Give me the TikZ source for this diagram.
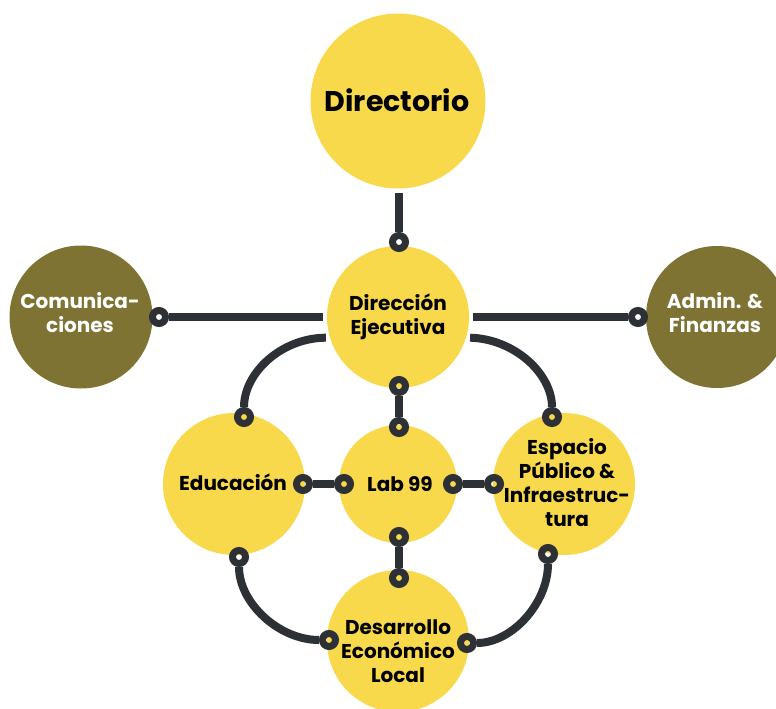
\documentclass[tikz,border=0pt]{standalone}
\usepackage{fontspec}
\setmainfont{Poppins}
\definecolor{ylw}{HTML}{F8D94C}
\definecolor{olv}{HTML}{7E7333}
\definecolor{drk}{HTML}{2D3135}
\begin{document}
\begin{tikzpicture}[x=1pt,y=-1pt,
  bigc/.style={circle,fill=#1,inner sep=0pt,outer sep=4pt},
  ring/.style={circle,draw=drk,line width=7pt,minimum size=13pt,inner sep=0pt},
  conn/.style={draw=drk,line width=8pt},
  lbl/.style={align=center,font=\fontsize{20}{24}\selectfont\bfseries,text=black,inner sep=0pt},
  lblw/.style={lbl,text=white}]
\useasboundingbox (0,0) rectangle (776,709);
% circles
\node[bigc=ylw,minimum size=175pt] (dir) at (398,101) {};
\node[bigc=ylw,minimum size=142pt] (de) at (398,317) {};
\node[bigc=olv,minimum size=143pt] (com) at (81,317) {};
\node[bigc=olv,minimum size=142pt] (adm) at (717,317) {};
\node[bigc=ylw,minimum size=142pt] (edu) at (234,484) {};
\node[bigc=ylw,minimum size=118pt] (lab) at (398,484) {};
\node[bigc=ylw,minimum size=142pt] (esp) at (564,484) {};
\node[bigc=ylw,minimum size=142pt] (del) at (398,641) {};
% labels
\node[lbl,font=\fontsize{28.5}{32}\selectfont\bfseries] (tdir) at (397,100) {Directorio};
\node[lbl] (tde) at (398,317) {Dirección\\Ejecutiva};
\node[lblw] (tcom) at (80,313) {Comunica-\\ciones};
\node[lblw] (tadm) at (715,313) {Admin. \&\\Finanzas};
\node[lbl] (tedu) at (233,482) {Educación};
\node[lbl] (tlab) at (400,484) {Lab 99};
\node[lbl] (tesp) at (567,483) {Espacio\\Público \&\\Infraestruc-\\tura};
\node[lbl] (tdel) at (398,651) {Desarrollo\\Económico\\Local};
% rings
\node[ring] (rA) at (399,242) {};
\node[ring] (rCom) at (159,317) {};
\node[ring] (rAdm) at (638,317) {};
\node[ring] (rEduT) at (244,417) {};
\node[ring] (rEspT) at (552,417) {};
\node[ring] (rDEb) at (399,386) {};
\node[ring] (rLabT) at (399,427) {};
\node[ring] (rEduR) at (303,484) {};
\node[ring] (rLabL) at (344,484) {};
\node[ring] (rLabR) at (453,484) {};
\node[ring] (rEspL) at (494,484) {};
\node[ring] (rLabB) at (399,537) {};
\node[ring] (rDELT) at (399,578) {};
\node[ring] (rEduB) at (239,557) {};
\node[ring] (rDELL) at (329,640) {};
\node[ring] (rEspB) at (548,554) {};
\node[ring] (rDELR) at (467,643) {};
% connectors
\path[conn] (dir.south -| rA) -- (rA);
\path[conn] (de) -- (rCom);
\path[conn] (de) -- (rAdm);
\path[conn] (de.196) .. controls (281,338) and (244,373) .. (rEduT);
\path[conn] (de.-16) .. controls (515,339) and (552,374) .. (rEspT);
\path[conn] (rDEb) -- (rLabT);
\path[conn] (rEduR) -- (rLabL);
\path[conn] (rLabR) -- (rEspL);
\path[conn] (rLabB) -- (rDELT);
\path[conn] (rEduB) .. controls (239,603) and (279,640) .. (rDELL);
\path[conn] (rEspB) .. controls (548,603) and (512,643) .. (rDELR);
\end{tikzpicture}
\end{document}
